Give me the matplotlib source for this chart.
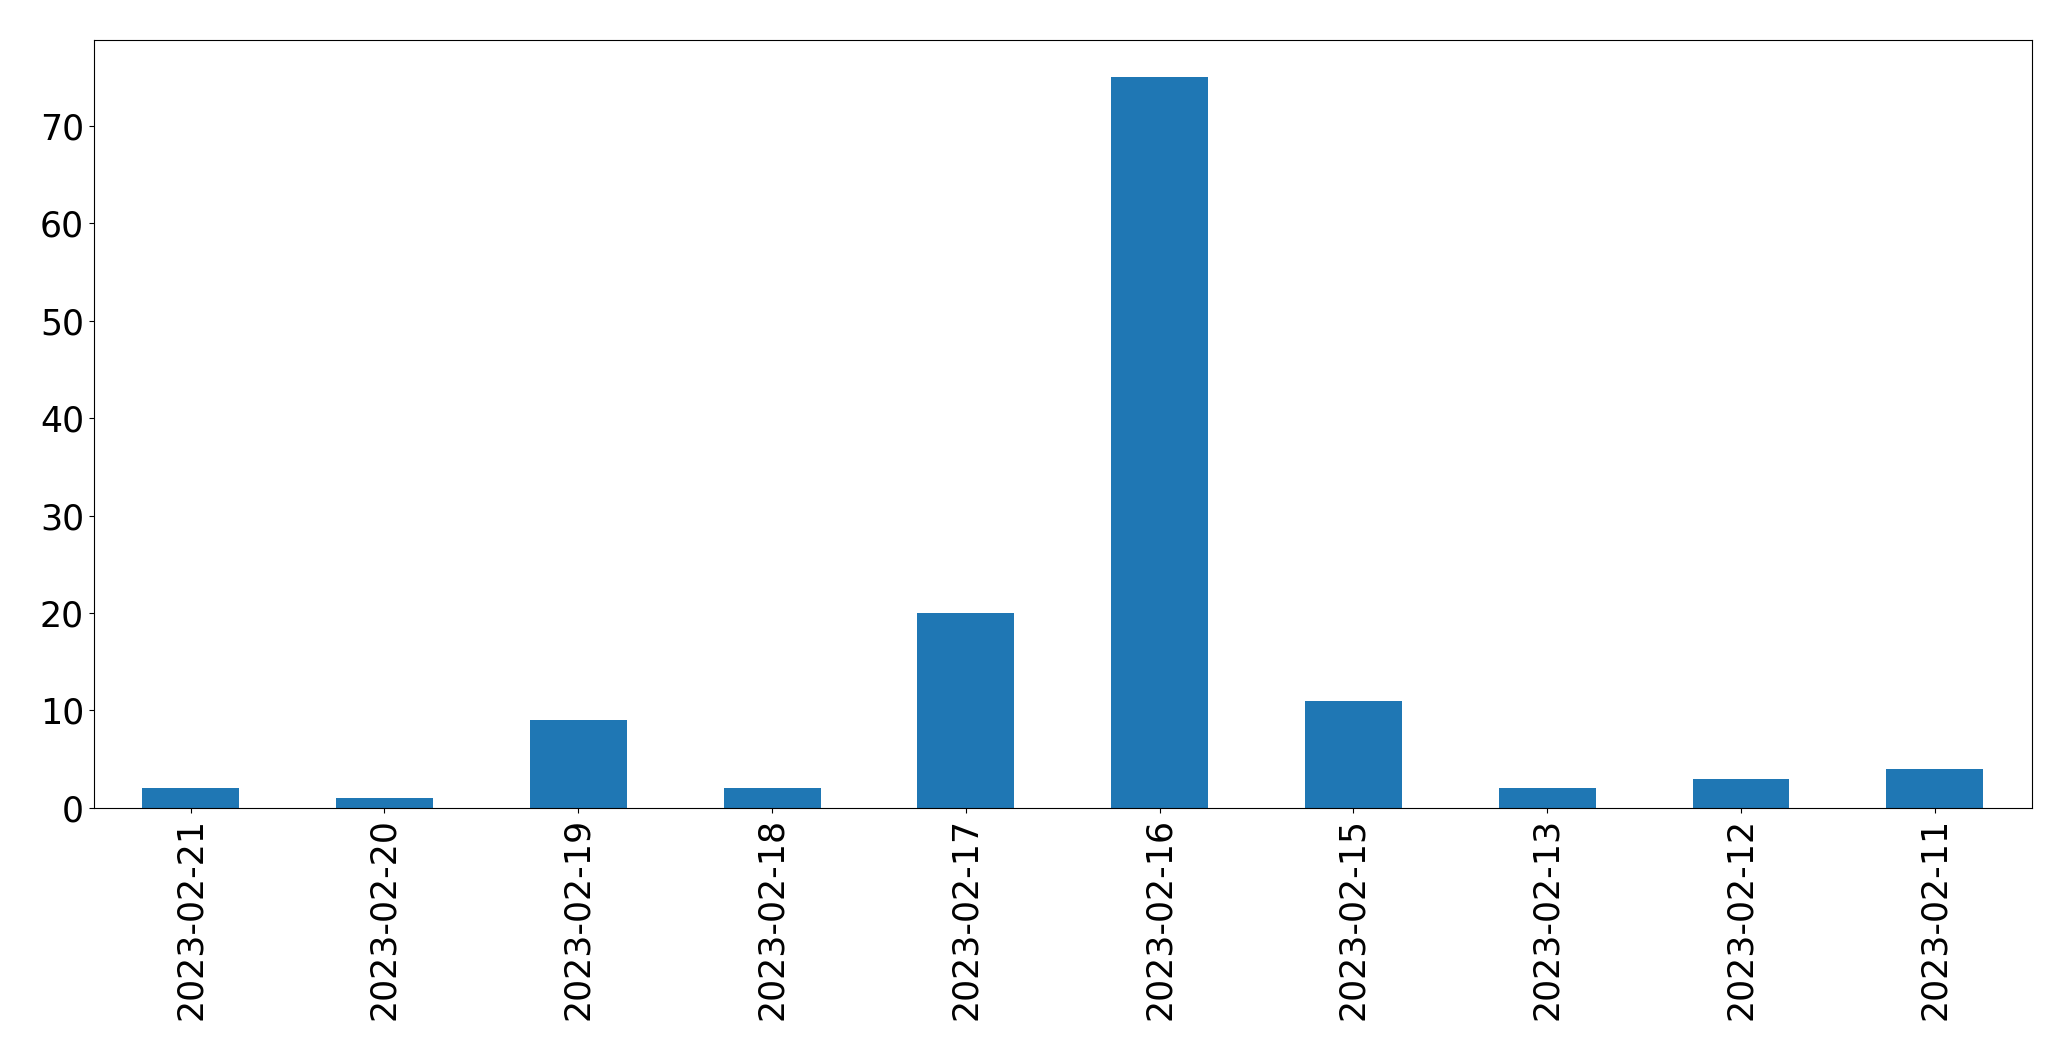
import matplotlib
matplotlib.use('Agg')
import matplotlib.pyplot as plt
import pandas as pd

# Counts per day
dates = ['2023-02-21', '2023-02-20', '2023-02-19', '2023-02-18', '2023-02-17',
         '2023-02-16', '2023-02-15', '2023-02-13', '2023-02-12', '2023-02-11']
counts = [2, 1, 9, 2, 20, 75, 11, 2, 3, 4]

s = pd.Series(counts, index=dates)

fig, ax = plt.subplots(figsize=(20.71, 10.61), dpi=100)
s.plot(kind='bar', ax=ax, color='#1f77b4')
ax.tick_params(axis='both', labelsize=25)
plt.subplots_adjust(left=0.0453, right=0.981, top=0.962, bottom=0.2385)
plt.savefig('out.png')
